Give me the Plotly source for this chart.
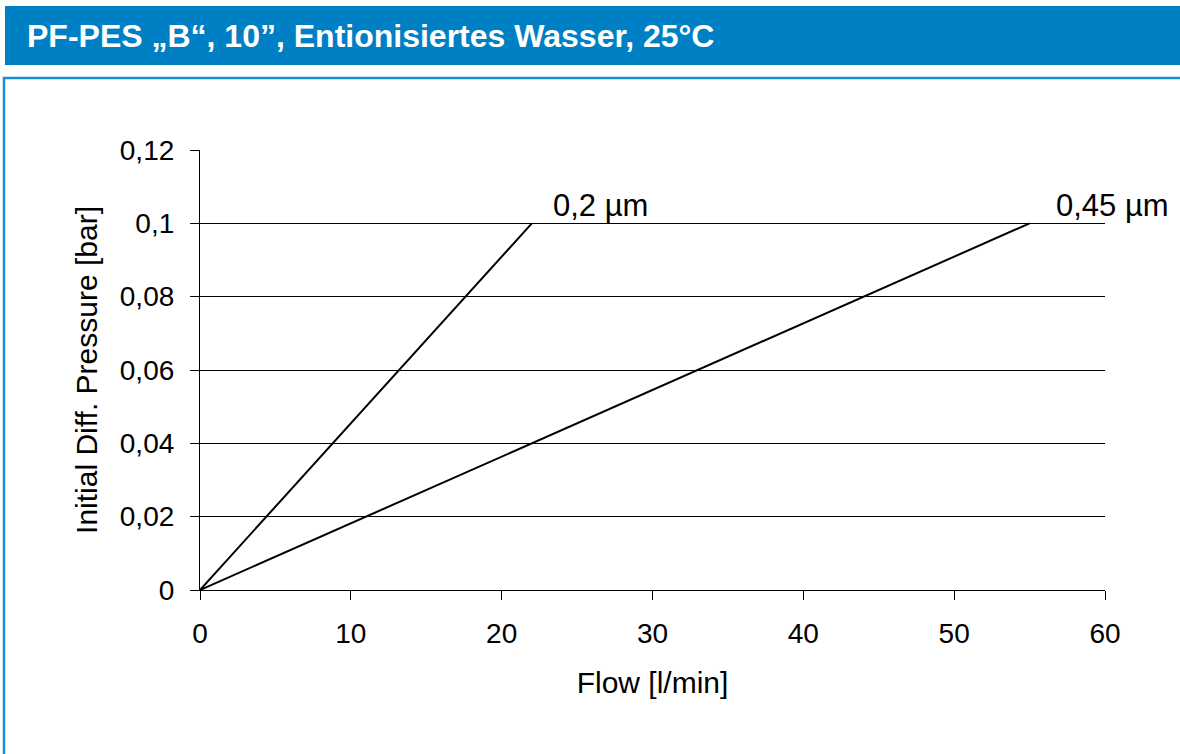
import plotly.graph_objects as go

# Data
flow_02 = [0, 22]
dp_02 = [0, 0.1]
flow_045 = [0, 55]
dp_045 = [0, 0.1]
series_labels = ["0,2 µm", "0,45 µm"]
y_tickvals = [0, 0.02, 0.04, 0.06, 0.08, 0.1, 0.12]
y_ticktext = ["0", "0,02", "0,04", "0,06", "0,08", "0,1", "0,12"]
x_tickvals = [0, 10, 20, 30, 40, 50, 60]

W, H = 1180, 754
L, R, T, B = 200, 1105, 150, 590
FONT = "Liberation Sans, Arial"

def px_x(p):
    return (p - L) / (R - L)

def px_y(p):
    return (B - p) / (B - T)

fig = go.Figure()
for xs, ys in [(flow_02, dp_02), (flow_045, dp_045)]:
    fig.add_trace(go.Scatter(x=xs, y=ys, mode="lines",
                             line=dict(color="black", width=2),
                             showlegend=False, hoverinfo="skip"))

label_xshift = [19, 24]
for (xs, ys), lab, xsh in zip([(flow_02, dp_02), (flow_045, dp_045)], series_labels, label_xshift):
    fig.add_annotation(x=xs[-1], y=ys[-1], text=lab, showarrow=False,
                       xanchor="left", yanchor="middle", xshift=xsh, yshift=18,
                       font=dict(family=FONT, size=31, color="black"))

fig.add_shape(type="rect", xref="paper", yref="paper",
              x0=px_x(5), x1=px_x(1190), y0=px_y(65), y1=px_y(6),
              fillcolor="#0080C4", line=dict(width=0), layer="below")
fig.add_shape(type="rect", xref="paper", yref="paper",
              x0=px_x(4), x1=px_x(1195), y0=px_y(770), y1=px_y(78),
              fillcolor="rgba(0,0,0,0)", line=dict(color="#1A8FD6", width=2.5), layer="below")
fig.add_annotation(xref="paper", yref="paper", x=px_x(25), y=px_y(36),
                   text="<b>PF-PES „B“, 10”, Entionisiertes Wasser, 25°C</b>",
                   showarrow=False, xanchor="left", yanchor="middle",
                   font=dict(family=FONT, size=32, color="white"))

fig.update_layout(
    width=W, height=H,
    margin=dict(l=L, r=W - R, t=T, b=H - B),
    paper_bgcolor="white", plot_bgcolor="white",
    font=dict(family=FONT, size=28, color="black"),
    xaxis=dict(range=[0, 60], tickvals=x_tickvals, showgrid=False,
               showline=True, linecolor="black", linewidth=1.2,
               ticks="outside", ticklen=9, tickcolor="black", tickwidth=1.2,
               ticklabelstandoff=9,
               zeroline=False, title=dict(text="Flow [l/min]", standoff=24, font=dict(size=30)),
               tickfont=dict(size=28)),
    yaxis=dict(range=[0, 0.12], tickvals=y_tickvals, ticktext=y_ticktext,
               showgrid=True, gridcolor="black", gridwidth=1,
               showline=True, linecolor="black", linewidth=1.2,
               ticks="outside", ticklen=9, tickcolor="black", tickwidth=1.2,
               ticklabelstandoff=10,
               zeroline=False, title=dict(text="Initial Diff. Pressure [bar]", standoff=13, font=dict(size=30)),
               tickfont=dict(size=28)),
)

fig.write_html("out.html", config={"displayModeBar": False},
               post_script="document.body.style.margin='0px';")
